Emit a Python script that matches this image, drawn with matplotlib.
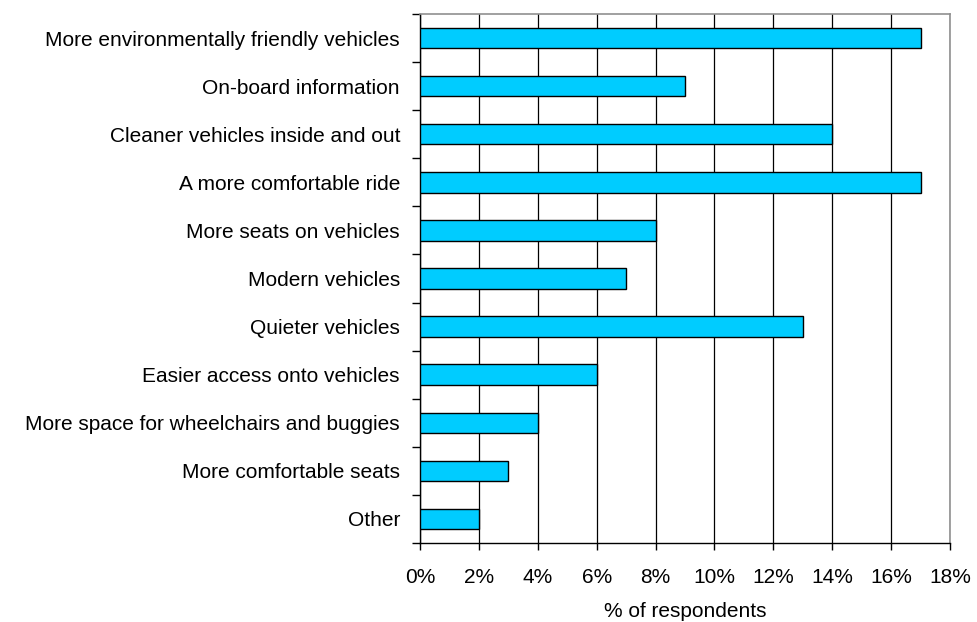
import matplotlib
matplotlib.use("Agg")
import matplotlib.pyplot as plt
from matplotlib.ticker import FuncFormatter, FixedLocator

categories = [
    "More environmentally friendly vehicles",
    "On-board information",
    "Cleaner vehicles inside and out",
    "A more comfortable ride",
    "More seats on vehicles",
    "Modern vehicles",
    "Quieter vehicles",
    "Easier access onto vehicles",
    "More space for wheelchairs and buggies",
    "More comfortable seats",
    "Other",
]
values = [17, 9, 14, 17, 8, 7, 13, 6, 4, 3, 2]
xticks = [0, 2, 4, 6, 8, 10, 12, 14, 16, 18]

plt.rcParams['font.family'] = ['Liberation Sans', 'DejaVu Sans']

fig = plt.figure(figsize=(9.77, 6.22), dpi=100)
L, R, T, B = 420, 950, 14, 543
ax = fig.add_axes([L/977, 1-B/622, (R-L)/977, (B-T)/622])

n = len(categories)
ypos = list(range(n))
ax.barh(ypos, values, height=0.425, color="#00CCFF", edgecolor="black", linewidth=1.0, zorder=3)
ax.set_ylim(n - 0.5, -0.5)
ax.set_xlim(0, 18)

ax.xaxis.set_major_locator(FixedLocator(xticks))
ax.xaxis.set_major_formatter(FuncFormatter(lambda v, p: f"{int(round(v))}%"))
ax.grid(axis='x', color='black', linewidth=0.9, zorder=0)

ax.set_yticks(ypos)
ax.set_yticklabels(categories)
ax.tick_params(axis='y', which='major', length=0, pad=14.4, labelsize=15)
ax.yaxis.set_minor_locator(FixedLocator([i - 0.5 for i in range(n + 1)]))
ax.tick_params(axis='y', which='minor', length=6, width=1, color='black', direction='out')
ax.tick_params(axis='x', length=5, width=1, color='black', direction='out', labelsize=15, pad=13)

for s in ['top', 'right']:
    ax.spines[s].set_color('#909090')
    ax.spines[s].set_linewidth(1.2)
for s in ['left', 'bottom']:
    ax.spines[s].set_color('black')
    ax.spines[s].set_linewidth(1.0)

ax.set_xlabel("% of respondents", fontsize=15, labelpad=11)

fig.savefig("out.png", dpi=100)
